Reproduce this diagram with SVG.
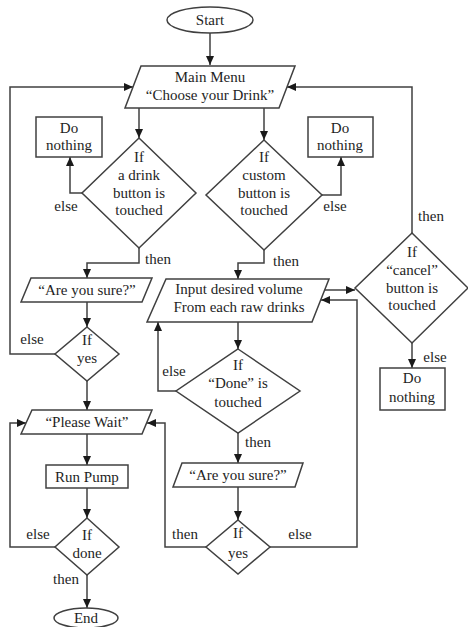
<svg xmlns="http://www.w3.org/2000/svg" width="468" height="627" viewBox="0 0 468 627">
<defs>
<marker id="ah" markerWidth="10" markerHeight="8" refX="9" refY="4" orient="auto" markerUnits="userSpaceOnUse">
<path d="M0,0 L9,4 L0,8 z" fill="#1a1a1a"/>
</marker>
<style>
.s{fill:#fff;stroke:#404040;stroke-width:1.5}
.c{fill:none;stroke:#404040;stroke-width:1.5;marker-end:url(#ah)}
text{font-family:"Liberation Serif","Times New Roman",serif;font-size:15px;fill:#1e1e1e;text-anchor:middle}
</style>
</defs>
<rect width="468" height="627" fill="#fff"/>
<g id="connectors">
<path class="c" d="M210 33 V65"/>
<path class="c" d="M139 108 V138"/>
<path class="c" d="M264 108 V140"/>
<path class="c" d="M82 193 H70 V157"/>
<path class="c" d="M322 195 H341 V157"/>
<path class="c" d="M139 248 V263 H87 V278"/>
<path class="c" d="M264 250 V263 H238 V279"/>
<path class="c" d="M87 302 V327"/>
<path class="c" d="M55 354 H10 V87 H133"/>
<path class="c" d="M87 381 V410"/>
<path class="c" d="M87 434 V465"/>
<path class="c" d="M87 488 V518"/>
<path class="c" d="M55 547 H10 V423 H26"/>
<path class="c" d="M87 575 V608"/>
<path class="c" d="M325 290 H355"/>
<path class="c" d="M412 233 V87 H287"/>
<path class="c" d="M412 343 V368"/>
<path class="c" d="M238 322 V349"/>
<path class="c" d="M176 391 H158 V322"/>
<path class="c" d="M238 433 V463"/>
<path class="c" d="M238 487 V520"/>
<path class="c" d="M206 547 H165 V423 H147"/>
<path class="c" d="M270 547 H357 V300 H321"/>
<text x="66" y="211">else</text>
<text x="158" y="264">then</text>
<text x="335" y="211">else</text>
<text x="286" y="266">then</text>
<text x="431" y="221">then</text>
<text x="435" y="362">else</text>
<text x="32" y="344">else</text>
<text x="174" y="376">else</text>
<text x="258" y="447">then</text>
<text x="185" y="539">then</text>
<text x="300" y="539">else</text>
<text x="38" y="539">else</text>
<text x="66" y="584">then</text>
</g>
<g id="start">
<ellipse class="s" cx="210" cy="20" rx="43" ry="13"/>
<text x="210" y="25">Start</text>
</g>
<g id="main-menu">
<polygon class="s" points="141,66 295,66 279,108 125,108"/>
<text x="210" y="82">Main Menu</text>
<text x="210" y="100">“Choose your Drink”</text>
</g>
<g id="nothing-1">
<rect class="s" x="36" y="117" width="66" height="40"/>
<text x="69" y="133">Do</text>
<text x="69" y="150">nothing</text>
</g>
<g id="if-drink">
<polygon class="s" points="139,138 196,193 139,248 82,193"/>
<text x="139" y="162">If</text>
<text x="139" y="180">a drink</text>
<text x="139" y="198">button is</text>
<text x="139" y="215">touched</text>
</g>
<g id="if-custom">
<polygon class="s" points="264,140 322,195 264,250 206,195"/>
<text x="264" y="162">If</text>
<text x="264" y="180">custom</text>
<text x="264" y="198">button is</text>
<text x="264" y="215">touched</text>
</g>
<g id="nothing-2">
<rect class="s" x="308" y="117" width="65" height="40"/>
<text x="340" y="133">Do</text>
<text x="340" y="150">nothing</text>
</g>
<g id="sure-1">
<polygon class="s" points="31,278 152,278 142,302 21,302"/>
<text x="87" y="295">“Are you sure?”</text>
</g>
<g id="if-yes-1">
<polygon class="s" points="87,327 119,354 87,381 55,354"/>
<text x="87" y="345">If</text>
<text x="87" y="363">yes</text>
</g>
<g id="input">
<polygon class="s" points="166,279 329,279 312,322 147,322"/>
<text x="239" y="294">Input desired volume</text>
<text x="239" y="312">From each raw drinks</text>
</g>
<g id="if-cancel">
<polygon class="s" points="412,233 468,288 412,343 355,288"/>
<text x="412" y="257">If</text>
<text x="412" y="275">“cancel”</text>
<text x="412" y="293">button is</text>
<text x="412" y="310">touched</text>
</g>
<g id="nothing-3">
<rect class="s" x="380" y="368" width="65" height="42"/>
<text x="412" y="383">Do</text>
<text x="412" y="402">nothing</text>
</g>
<g id="if-done-touched">
<polygon class="s" points="238,349 300,391 238,433 176,391"/>
<text x="238" y="370">If</text>
<text x="238" y="388">“Done” is</text>
<text x="238" y="407">touched</text>
</g>
<g id="sure-2">
<polygon class="s" points="182,463 303,463 295,487 173,487"/>
<text x="238" y="480">“Are you sure?”</text>
</g>
<g id="if-yes-2">
<polygon class="s" points="238,520 270,547 238,574 206,547"/>
<text x="238" y="538">If</text>
<text x="238" y="558">yes</text>
</g>
<g id="please-wait">
<polygon class="s" points="32,410 152,410 142,434 21,434"/>
<text x="87" y="427">“Please Wait”</text>
</g>
<g id="run-pump">
<rect class="s" x="46" y="465" width="82" height="23"/>
<text x="87" y="482">Run Pump</text>
</g>
<g id="if-done">
<polygon class="s" points="87,518 119,547 87,575 55,547"/>
<text x="87" y="540">If</text>
<text x="87" y="558">done</text>
</g>
<g id="end">
<ellipse class="s" cx="86" cy="618" rx="32" ry="10"/>
<text x="86" y="623">End</text>
</g>
</svg>
